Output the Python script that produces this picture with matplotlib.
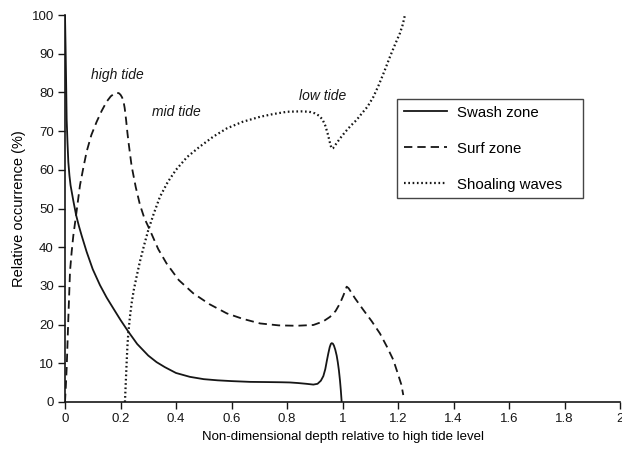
import matplotlib
matplotlib.use("Agg")
import matplotlib.pyplot as plt

plt.rcParams['font.family'] = ['Liberation Sans', 'DejaVu Sans']
plt.rcParams['lines.scale_dashes'] = False

# Swash zone (solid)
swash_x = [0, 0.002, 0.004, 0.006, 0.009, 0.012, 0.016, 0.02, 0.03, 0.04, 0.05,
           0.06, 0.078, 0.1, 0.126, 0.15, 0.174, 0.2, 0.228, 0.26, 0.3, 0.33,
           0.36, 0.4, 0.45, 0.5, 0.55, 0.6, 0.667, 0.73, 0.78, 0.81, 0.84, 0.87,
           0.895, 0.91, 0.922, 0.931, 0.938, 0.944, 0.949, 0.954, 0.958, 0.961,
           0.965, 0.969, 0.974, 0.979, 0.983, 0.987, 0.991, 0.994, 0.997]
swash_y = [100, 92, 83, 73, 67, 62, 58.5, 56, 52, 48.3, 45.5,
           43, 38.8, 34.3, 30.2, 27, 24.2, 21.2, 18.2, 15, 12, 10.3,
           9, 7.5, 6.5, 5.9, 5.6, 5.4, 5.2, 5.15, 5.1, 5.05, 4.9, 4.7,
           4.5, 4.7, 5.5, 6.7, 8.5, 10.8, 12.6, 14.2, 15.0, 15.2,
           15.1, 14.6, 13.5, 12.0, 10.3, 8.2, 5.5, 3.0, 0]

# Surf zone (dashed)
surf_x = [0, 0.003, 0.006, 0.009, 0.012, 0.018, 0.024, 0.03, 0.04, 0.054, 0.066,
          0.078, 0.095, 0.114, 0.132, 0.15, 0.165, 0.178, 0.186, 0.194, 0.2,
          0.205, 0.21, 0.215, 0.22, 0.225, 0.23, 0.24, 0.255, 0.27, 0.286, 0.306,
          0.336, 0.366, 0.41, 0.462, 0.52, 0.583, 0.64, 0.703, 0.77, 0.835, 0.895,
          0.93, 0.955, 0.975, 0.991, 1.003, 1.01, 1.015, 1.022, 1.045, 1.075,
          1.105, 1.135, 1.16, 1.183, 1.2, 1.212, 1.219]
surf_y = [0, 4, 8.7, 15, 21.6, 33.7, 38.8, 43, 48.3, 56, 60.5,
          64.7, 69, 72.4, 75.2, 77.6, 79, 79.7, 79.9, 79.8, 79.4,
          78.8, 78, 76, 73, 69.5, 66.5, 61, 55.5, 51, 47.5, 44.4,
          39.5, 35.8, 31.5, 28.1, 25.3, 22.9, 21.5, 20.3, 19.8, 19.7, 19.9,
          20.8, 22, 23.5, 25.5, 27.5, 28.8, 29.8, 29.4, 26.8, 23.8,
          20.9, 17.7, 14.3, 10.9, 7.2, 4.5, 1.8]

# Shoaling waves (dotted)
shoal_x = [0.216, 0.219, 0.222, 0.225, 0.228, 0.234, 0.24, 0.248, 0.258, 0.27,
           0.285, 0.3, 0.32, 0.342, 0.37, 0.40, 0.44, 0.486, 0.535, 0.583, 0.64,
           0.703, 0.75, 0.80, 0.85, 0.88, 0.9, 0.915, 0.928, 0.938, 0.946, 0.952,
           0.957, 0.961, 0.966, 0.975, 0.991, 1.01, 1.03, 1.051, 1.07, 1.09, 1.111,
           1.13, 1.15, 1.171, 1.19, 1.207, 1.217, 1.225]
shoal_y = [0, 5, 10, 14.5, 17.7, 22, 25.5, 29, 32.4, 36.3,
           40.5, 44.4, 48.7, 53, 56.8, 60, 63.3, 66, 68.6, 70.7, 72.4,
           73.7, 74.4, 75, 75.1, 75, 74.6, 74, 73, 71.4, 69.5, 67.8,
           66.3, 65.5, 65.6, 66.5, 68.1, 69.8, 71.4, 72.9, 74.6, 76.3, 78.8,
           81.8, 85.3, 89.2, 92.5, 95.3, 97.5, 100]

series_labels = ['Swash zone', 'Surf zone', 'Shoaling waves']
tide_labels = ['high tide', 'mid tide', 'low tide']
tide_pos = [(0.19, 84.5), (0.40, 75), (0.93, 79)]

x_ticks = [0, 0.2, 0.4, 0.6, 0.8, 1, 1.2, 1.4, 1.6, 1.8, 2]
x_ticklabels = ['0', '0.2', '0.4', '0.6', '0.8', '1', '1.2', '1.4', '1.6', '1.8', '2']
y_ticks = list(range(0, 101, 10))

fig = plt.figure(figsize=(6.22, 4.5), dpi=100)
ax = fig.add_axes([65 / 622, 48 / 450, 555 / 622, 387 / 450])

ink = '#161616'
ax.plot(swash_x, swash_y, color=ink, lw=1.3, label=series_labels[0])
ax.plot(surf_x, surf_y, color=ink, lw=1.3, dashes=(6, 3.6), label=series_labels[1])
ax.plot(shoal_x, shoal_y, color=ink, lw=1.6, dashes=(1.2, 1.9), label=series_labels[2])

for txt, (tx, ty) in zip(tide_labels, tide_pos):
    ax.text(tx, ty, txt, style='italic', fontsize=10, ha='center', va='center', color=ink)

ax.set_xlim(0, 2)
ax.set_ylim(0, 100)
ax.set_xticks(x_ticks)
ax.set_xticklabels(x_ticklabels)
ax.set_yticks(y_ticks)
ax.tick_params(labelsize=9.5, length=5, width=1, colors=ink, pad=3)
for side in ['top', 'right']:
    ax.spines[side].set_visible(False)
for side in ['left', 'bottom']:
    ax.spines[side].set_linewidth(1.2)
    ax.spines[side].set_color(ink)

ax.set_xlabel('Non-dimensional depth relative to high tide level', fontsize=9.5, labelpad=4)
ax.set_ylabel('Relative occurrence (%)', fontsize=10.5, labelpad=4)

leg = ax.legend(loc='upper left', bbox_to_anchor=(0.598, 0.783, 0.335, 0.0),
                mode='expand', borderaxespad=0, fontsize=10.8, frameon=True,
                fancybox=False, handlelength=2.9, labelspacing=1.46,
                borderpad=0.45, handletextpad=0.67)
leg.get_frame().set_edgecolor(ink)
leg.get_frame().set_linewidth(1.0)

fig.savefig('out.png', dpi=100)
